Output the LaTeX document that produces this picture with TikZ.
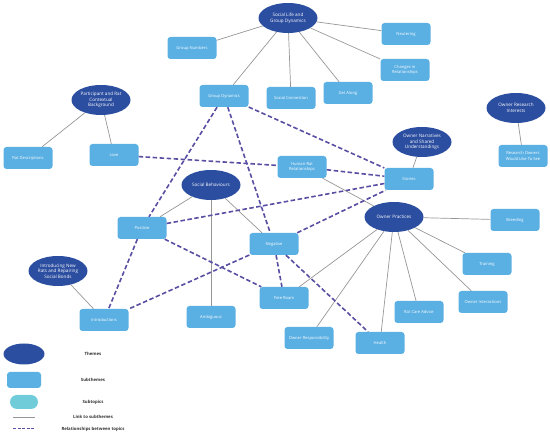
\documentclass[tikz,border=0pt]{standalone}
\usepackage{fontspec}
\setmainfont{Open Sans}
\usetikzlibrary{shapes.geometric}

\definecolor{themeblue}{RGB}{44,78,160}
\definecolor{subblue}{RGB}{90,175,227}
\definecolor{topicteal}{RGB}{112,204,217}
\definecolor{relpurple}{RGB}{88,78,162}
\definecolor{linkgray}{RGB}{150,150,150}
\definecolor{keytext}{RGB}{50,50,50}

\begin{document}
\begin{tikzpicture}[x=1pt,y=-1pt,
  theme/.style={ellipse,fill=themeblue,text=white,minimum width=59pt,minimum height=30pt,inner sep=0pt,align=center,font=\fontsize{4.6}{5.7}\selectfont},
  sub/.style={rectangle,rounded corners=3pt,fill=subblue,text=white,minimum width=49pt,minimum height=22pt,inner sep=0pt,align=center,font=\fontsize{4.1}{5.1}\selectfont},
  link/.style={draw=linkgray,line width=0.7pt},
  rel/.style={draw=relpurple,line width=1.6pt,dash pattern=on 4.5pt off 2.5pt},
  key/.style={font=\bfseries\fontsize{4.3}{5}\selectfont,text=keytext}]

\useasboundingbox (0,0) rectangle (550,435);

%% themes
\node[theme] (social) at (288,18) {Social Life and\\Group Dynamics};
\node[theme] (participant) at (101,100) {Participant and Rat\\Contextual\\Background};
\node[theme] (research) at (516,108) {Owner Research\\Interests};
\node[theme] (narratives) at (422,142) {Owner Narratives\\and Shared\\Understandings};
\node[theme] (behaviours) at (211,185) {Social Behaviours};
\node[theme] (practices) at (394,217) {Owner Practices};
\node[theme] (introducing) at (58,271) {Introducing New\\Rats and Repairing\\Social Bonds};

%% subthemes
\node[sub] (groupnum) at (192,48) {Group Numbers};
\node[sub] (neutering) at (406,34) {Neutering};
\node[sub] (changes) at (405,70) {Changes in\\Relationships};
\node[sub] (getalong) at (348,93) {Get Along};
\node[sub] (connection) at (291,98) {Social Connection};
\node[sub] (groupdyn) at (224,96) {Group Dynamics};
\node[sub] (love) at (114,155) {Love};
\node[sub] (ratdesc) at (28,158) {Rat Descriptions};
\node[sub] (humanrat) at (302,167) {Human-Rat\\Relationships};
\node[sub] (stories) at (409,179) {Stories};
\node[sub] (wish) at (523,156) {Research Owners\\Would Like To See};
\node[sub] (breeding) at (515,220) {Breeding};
\node[sub] (training) at (487,264) {Training};
\node[sub] (positive) at (142,228) {Positive};
\node[sub] (negative) at (274,244) {Negative};
\node[sub] (freeroam) at (284,298) {Free Roam};
\node[sub] (ambiguous) at (211,317) {Ambiguous};
\node[sub] (intros) at (104,320) {Introductions};
\node[sub] (responsib) at (309,338) {Owner Responsibility};
\node[sub] (health) at (380,343) {Health};
\node[sub] (careadvice) at (419,312) {Rat Care Advice};
\node[sub] (interact) at (483,302) {Owner Interactions};

%% links to subthemes
\foreach \s in {groupnum,neutering,changes,getalong,connection,groupdyn}
  \draw[link] (social) -- (\s);
\foreach \s in {ratdesc,love}
  \draw[link] (participant) -- (\s);
\draw[link] (research) -- (wish);
\draw[link] (narratives) -- (stories);
\foreach \s in {positive,negative,ambiguous}
  \draw[link] (behaviours) -- (\s);
\foreach \s in {breeding,training,interact,careadvice,health,responsib,freeroam,humanrat}
  \draw[link] (practices) -- (\s);
\draw[link] (introducing) -- (intros);

%% relationships between topics
\draw[rel] (groupdyn) -- (positive);
\draw[rel] (groupdyn) -- (negative);
\draw[rel] (groupdyn) -- (stories);
\draw[rel] (love) -- (humanrat);
\draw[rel] (humanrat) -- (stories);
\draw[rel] (positive) -- (stories);
\draw[rel] (negative) -- (stories);
\draw[rel] (positive) -- (intros);
\draw[rel] (positive) -- (freeroam);
\draw[rel] (negative) -- (intros);
\draw[rel] (negative) -- (freeroam);
\draw[rel] (negative) -- (health);

%% key
\node[ellipse,fill=themeblue,minimum width=41pt,minimum height=21pt,inner sep=0pt] (keytheme) at (24,354) {};
\node[rectangle,rounded corners=3pt,fill=subblue,minimum width=34pt,minimum height=16pt,inner sep=0pt] (keysub) at (24,380) {};
\node[rectangle,rounded corners=7pt,fill=topicteal,minimum width=28pt,minimum height=14pt,inner sep=0pt] (keytopic) at (24,402) {};
\coordinate (keylinka) at (13,417);
\coordinate (keylinkb) at (35,417);
\coordinate (keyrela) at (13,429);
\coordinate (keyrelb) at (35,429);
\draw[link] (keylinka) -- (keylinkb);
\draw[rel,line width=1pt,dash pattern=on 3pt off 1.5pt] (keyrela) -- (keyrelb);
\node[key] (keythemetxt) at (93,354) {Themes};
\node[key] (keysubtxt) at (93,380) {Subthemes};
\node[key] (keytopictxt) at (93,402) {Subtopics};
\node[key] (keylinktxt) at (93,417) {Link to subthemes};
\node[key] (keyreltxt) at (93,429) {Relationships between topics};

\end{tikzpicture}
\end{document}
